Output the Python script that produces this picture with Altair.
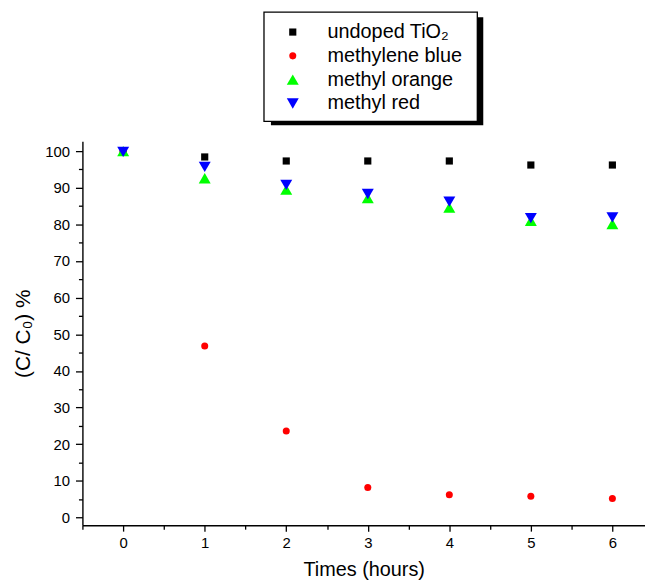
import altair as alt
import pandas as pd

times = [0, 1, 2, 3, 4, 5, 6]
series_names = ["undoped TiO₂", "methylene blue", "methyl orange", "methyl red"]
undoped = [100.0, 98.4, 97.3, 97.3, 97.3, 96.2, 96.2]
mblue = [100.0, 46.8, 23.6, 8.2, 6.2, 5.8, 5.2]
morange = [100.0, 92.6, 89.5, 87.2, 84.6, 81.0, 80.1]
mred = [99.8, 95.7, 90.8, 88.3, 86.2, 81.7, 81.9]

colors = ["#000000", "#ff0000", "#00ff00", "#0000ff"]
shapes = ["square", "circle", "triangle-up", "triangle-down"]
sizes = [52, 50, 145, 145]

rows = []
for name, vals in zip(series_names, [undoped, mblue, morange, mred]):
    for t, v in zip(times, vals):
        rows.append({"t": t, "v": v, "s": name})
df = pd.DataFrame(rows)

FONT = "Arial, Liberation Sans, sans-serif"
xscale = alt.Scale(domain=[-0.5, 6.4], nice=False, zero=False)
yscale = alt.Scale(domain=[-2.1, 102.7], nice=False, zero=False)

points = alt.Chart(df).mark_point(filled=True, opacity=1).encode(
    x=alt.X("t:Q", scale=xscale,
            axis=alt.Axis(values=times, title="Times (hours)", orient="bottom",
                          tickSize=6, labelPadding=4, titlePadding=10,
                          titleFontSize=20)),
    y=alt.Y("v:Q", scale=yscale,
            axis=alt.Axis(values=list(range(0, 101, 10)), title="(C/ C₀) %",
                          orient="left", tickSize=7, labelPadding=6,
                          titlePadding=11, titleFontSize=21)),
    color=alt.Color("s:N", scale=alt.Scale(domain=series_names, range=colors),
                    legend=alt.Legend(title=None, orient="none", legendX=202,
                                      legendY=-120, padding=0,
                                      labelOffset=25,
                                      rowPadding=4, labelFontSize=20,
                                      labelFont=FONT, labelColor="black")),
    shape=alt.Shape("s:N", scale=alt.Scale(domain=series_names, range=shapes)),
    size=alt.Size("s:N", scale=alt.Scale(type="ordinal", domain=series_names,
                                         range=sizes)),
)

minor = alt.Chart(df).mark_point(opacity=0).encode(
    x=alt.X("t:Q", scale=xscale,
            axis=alt.Axis(values=[-0.5, 0.5, 1.5, 2.5, 3.5, 4.5, 5.5],
                          labels=False, title=None, domain=False,
                          tickSize=4, orient="bottom")),
    y=alt.Y("v:Q", scale=yscale,
            axis=alt.Axis(values=list(range(5, 100, 10)), labels=False,
                          title=None, domain=False, tickSize=4, orient="left")),
)

one = alt.Data(values=[{}])
shadow = alt.Chart(one).mark_rect(color="black").encode(
    x=alt.value(190), x2=alt.value(404), y=alt.value(-125), y2=alt.value(-16)
)
box = alt.Chart(one).mark_rect(fill="white", stroke="black", strokeWidth=1.3).encode(
    x=alt.value(183), x2=alt.value(398), y=alt.value(-130), y2=alt.value(-20)
)

chart = alt.layer(shadow, box, minor, points).resolve_axis(
    x="independent", y="independent"
).properties(
    width=567, height=387,
    autosize=alt.AutoSizeParams(type="none"),
    padding={"left": 75, "top": 132, "right": 0, "bottom": 54},
).configure_view(stroke=None).configure_axis(
    grid=False, domainColor="black", tickColor="black", domainWidth=1.4,
    tickWidth=1.3, labelColor="black", titleColor="black", labelFont=FONT,
    titleFont=FONT, labelFontSize=15, titleFontWeight="normal"
)

chart.save("out.html", embed_options={"renderer": "svg", "actions": False})
